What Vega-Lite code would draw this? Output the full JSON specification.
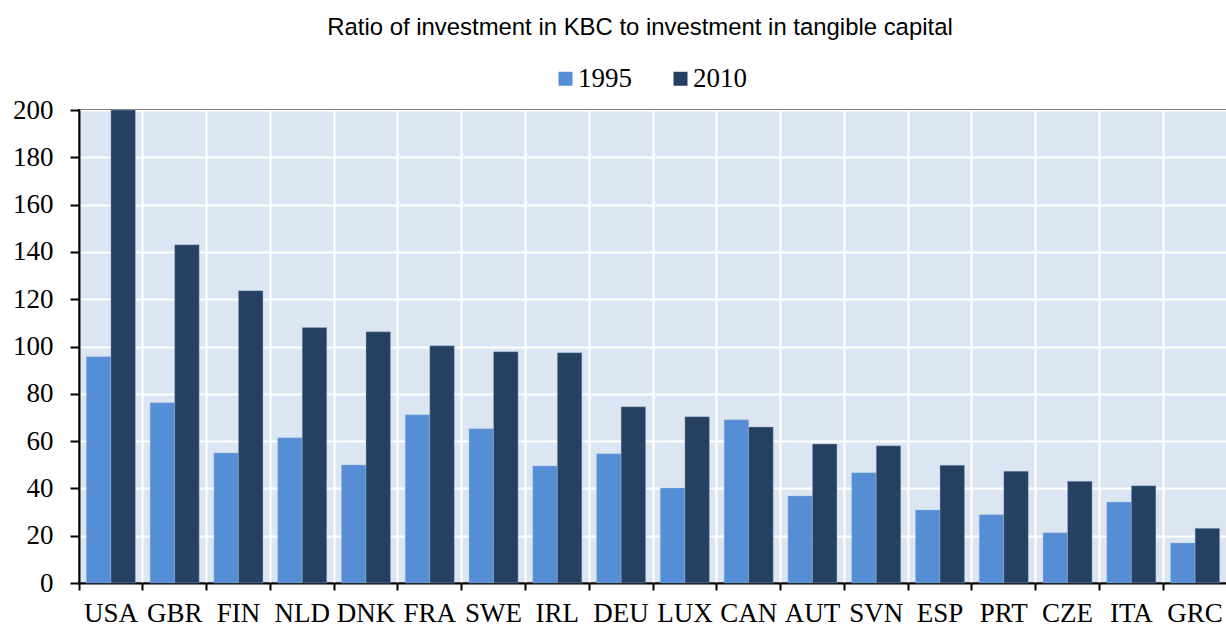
{
  "$schema": "https://vega.github.io/schema/vega-lite/v6.json",
  "width": 1148,
  "height": 473,
  "autosize": {"type": "none"},
  "padding": {"left": 79, "top": 110, "right": 0, "bottom": 43},
  "background": "white",
  "title": {
    "text": "Ratio of investment in KBC to investment in tangible capital",
    "font": "Arial, Liberation Sans, sans-serif",
    "fontSize": 23.9,
    "fontWeight": "normal",
    "color": "black",
    "anchor": "middle",
    "dx": -13,
    "offset": 25
  },
  "config": {
    "view": {"fill": "#dce6f2", "stroke": "black", "strokeWidth": 2}
  },
  "data": {
    "values": [
      {"country": "USA", "year": "1995", "value": 95.7},
      {"country": "USA", "year": "2010", "value": 200},
      {"country": "GBR", "year": "1995", "value": 76.2},
      {"country": "GBR", "year": "2010", "value": 143},
      {"country": "FIN", "year": "1995", "value": 55},
      {"country": "FIN", "year": "2010", "value": 123.6},
      {"country": "NLD", "year": "1995", "value": 61.4},
      {"country": "NLD", "year": "2010", "value": 108},
      {"country": "DNK", "year": "1995", "value": 49.9},
      {"country": "DNK", "year": "2010", "value": 106.2},
      {"country": "FRA", "year": "1995", "value": 71.1},
      {"country": "FRA", "year": "2010", "value": 100.3},
      {"country": "SWE", "year": "1995", "value": 65.2},
      {"country": "SWE", "year": "2010", "value": 97.8},
      {"country": "IRL", "year": "1995", "value": 49.5},
      {"country": "IRL", "year": "2010", "value": 97.4},
      {"country": "DEU", "year": "1995", "value": 54.6},
      {"country": "DEU", "year": "2010", "value": 74.5},
      {"country": "LUX", "year": "1995", "value": 40.2},
      {"country": "LUX", "year": "2010", "value": 70.3},
      {"country": "CAN", "year": "1995", "value": 69},
      {"country": "CAN", "year": "2010", "value": 66},
      {"country": "AUT", "year": "1995", "value": 36.8},
      {"country": "AUT", "year": "2010", "value": 58.8},
      {"country": "SVN", "year": "1995", "value": 46.6},
      {"country": "SVN", "year": "2010", "value": 58},
      {"country": "ESP", "year": "1995", "value": 30.9},
      {"country": "ESP", "year": "2010", "value": 49.8},
      {"country": "PRT", "year": "1995", "value": 28.9},
      {"country": "PRT", "year": "2010", "value": 47.3},
      {"country": "CZE", "year": "1995", "value": 21.2},
      {"country": "CZE", "year": "2010", "value": 43},
      {"country": "ITA", "year": "1995", "value": 34.2},
      {"country": "ITA", "year": "2010", "value": 41.1},
      {"country": "GRC", "year": "1995", "value": 16.9},
      {"country": "GRC", "year": "2010", "value": 23.1}
    ]
  },
  "mark": {"type": "bar", "stroke": "#9fb9d9", "strokeWidth": 0.6, "strokeOpacity": 0.7},
  "encoding": {
    "x": {
      "field": "country",
      "type": "nominal",
      "sort": null,
      "scale": {"paddingInner": 0, "paddingOuter": 0},
      "axis": {
        "title": null,
        "bandPosition": 0,
        "grid": true,
        "gridColor": "white",
        "gridWidth": 2,
        "gridOpacity": 1,
        "domainColor": "black",
        "domainWidth": 2,
        "tickColor": "black",
        "tickWidth": 2,
        "tickSize": 7,
        "labelAngle": 0,
        "labelFont": "Times New Roman, Liberation Serif, serif",
        "labelFontSize": 27,
        "labelColor": "black",
        "labelPadding": 10
      }
    },
    "xOffset": {
      "field": "year",
      "type": "nominal",
      "scale": {"paddingInner": 0, "paddingOuter": 0.3}
    },
    "y": {
      "field": "value",
      "type": "quantitative",
      "scale": {"domain": [0, 200], "nice": false},
      "axis": {
        "title": null,
        "values": [0, 20, 40, 60, 80, 100, 120, 140, 160, 180, 200],
        "grid": true,
        "gridColor": "white",
        "gridWidth": 2,
        "gridOpacity": 1,
        "domainColor": "black",
        "domainWidth": 2,
        "tickColor": "black",
        "tickWidth": 2,
        "tickSize": 9,
        "labelFont": "Times New Roman, Liberation Serif, serif",
        "labelFontSize": 27,
        "labelColor": "black",
        "labelPadding": 17
      }
    },
    "color": {
      "field": "year",
      "type": "nominal",
      "scale": {"domain": ["1995", "2010"], "range": ["#558ed5", "#254061"]},
      "legend": {
        "title": null,
        "orient": "none",
        "direction": "horizontal",
        "legendX": 473,
        "legendY": -45,
        "symbolType": "square",
        "symbolSize": 196,
        "symbolStrokeWidth": 0,
        "labelFont": "Times New Roman, Liberation Serif, serif",
        "labelFontSize": 27,
        "labelColor": "black",
        "labelOffset": -1,
        "columnPadding": 35
      }
    }
  }
}
